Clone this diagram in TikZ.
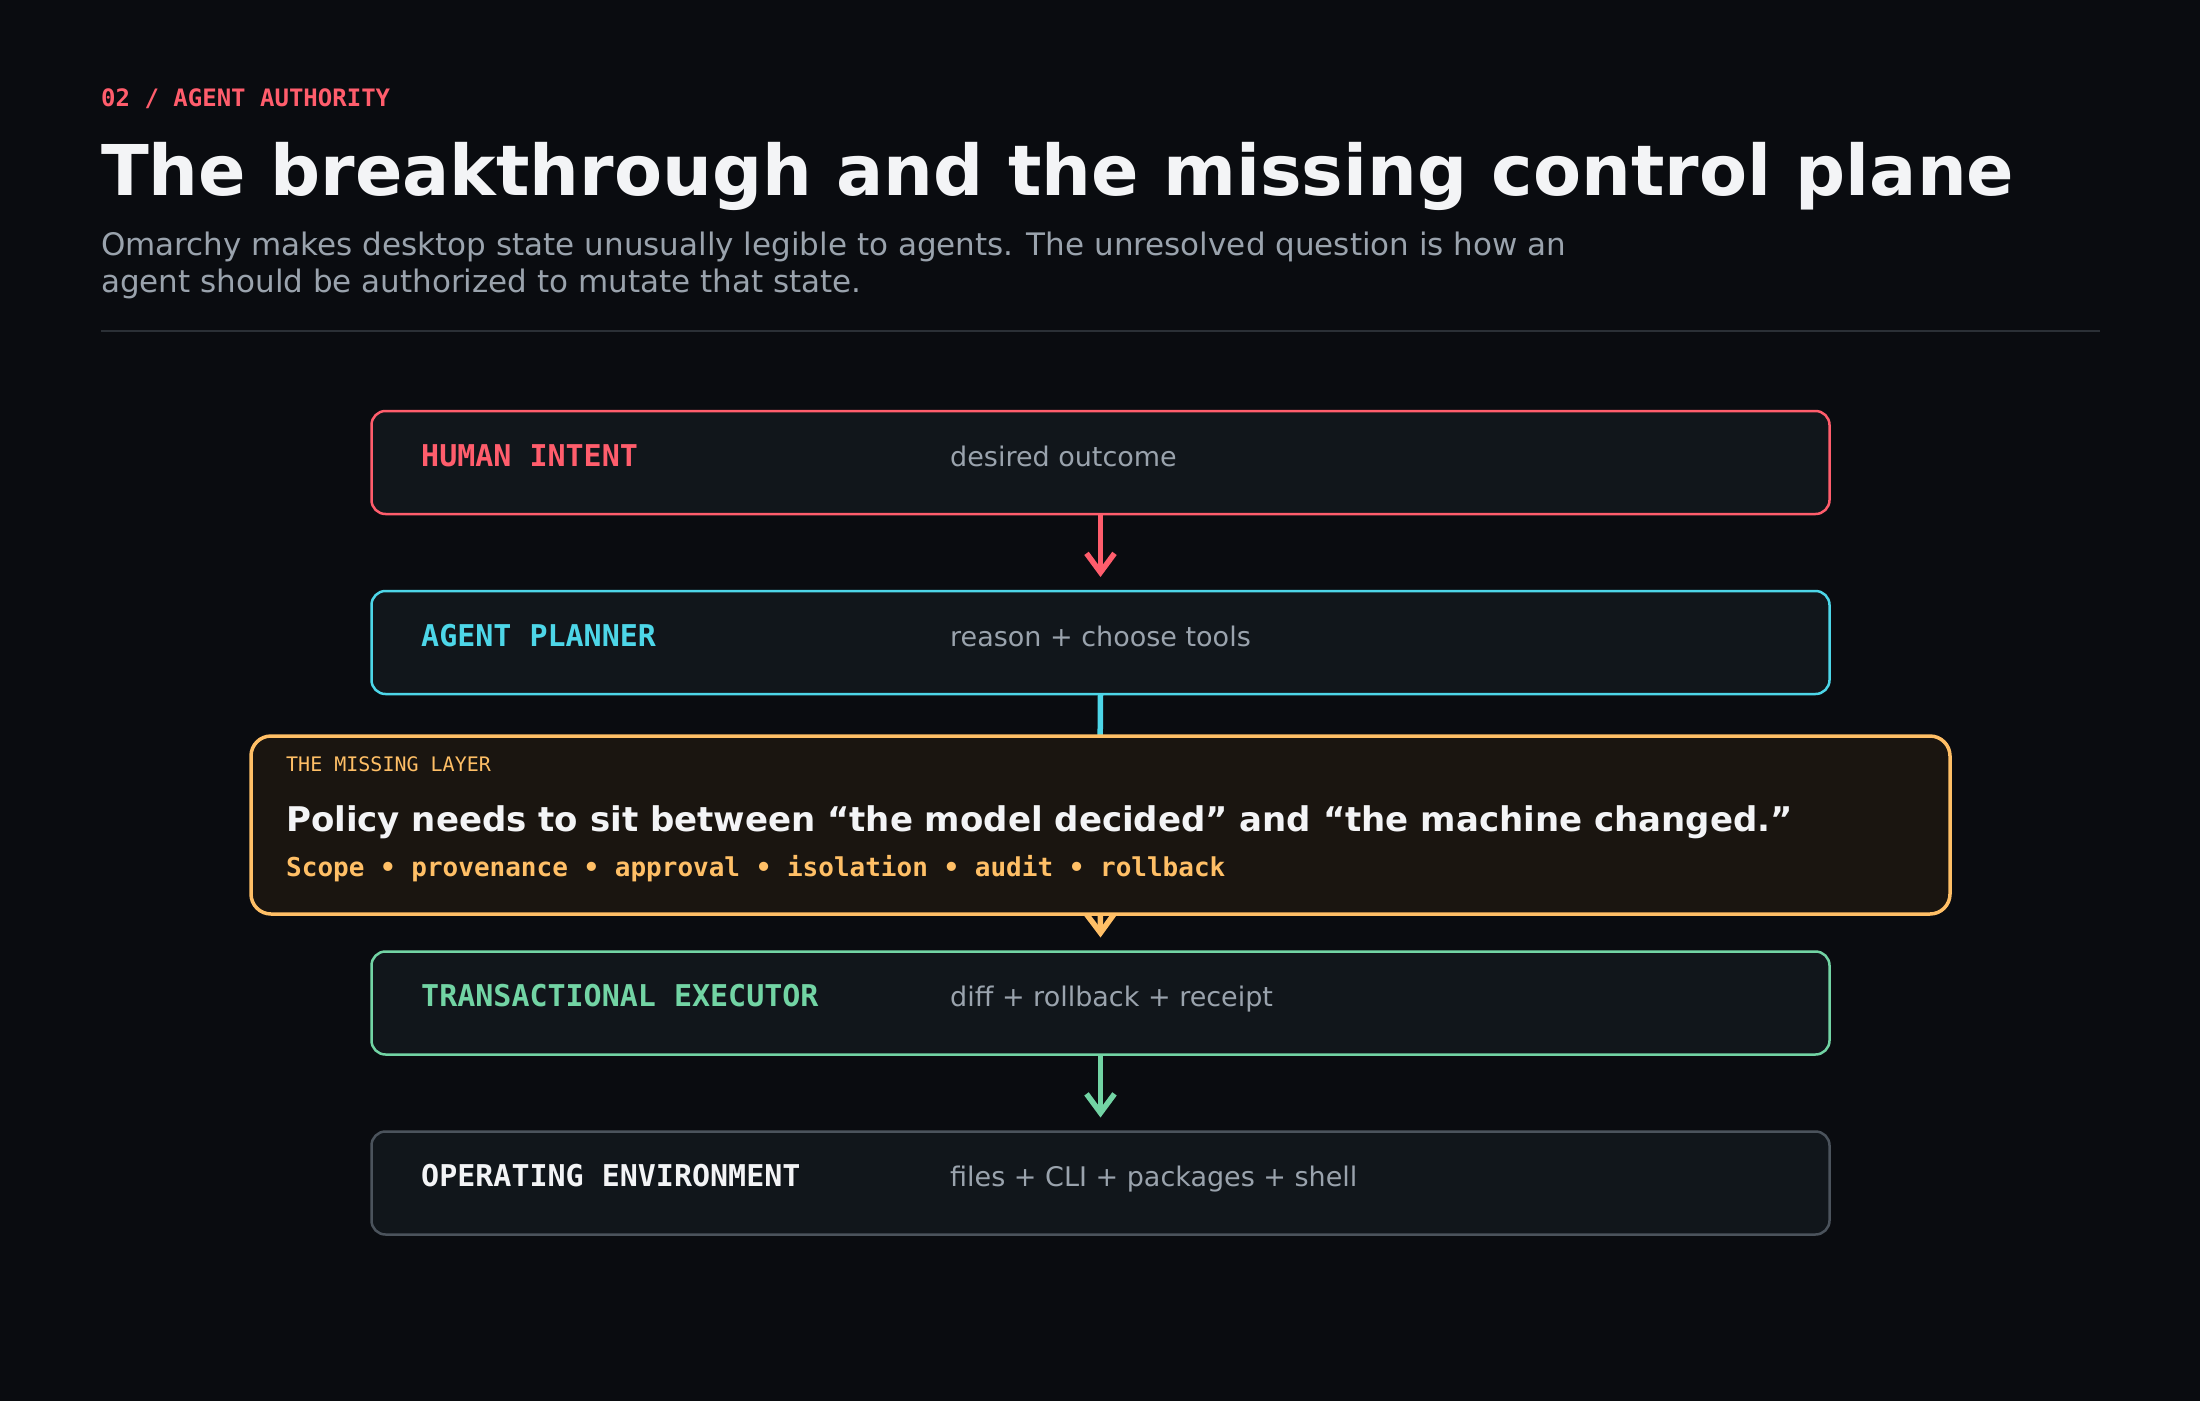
\documentclass[tikz,border=0pt]{standalone}
\usepackage{fontspec}
\setmainfont{DejaVu Sans}
\newfontfamily\monofont{DejaVu Sans Mono}
\usetikzlibrary{arrows.meta}
\definecolor{bgc}{HTML}{0A0C10}
\definecolor{boxfill}{HTML}{11161B}
\definecolor{redc}{HTML}{FF5D6C}
\definecolor{cyanc}{HTML}{4DD6E8}
\definecolor{orangec}{HTML}{FFBF66}
\definecolor{greenc}{HTML}{72D4A4}
\definecolor{grayb}{HTML}{4B535C}
\definecolor{subgray}{HTML}{9AA3AD}
\definecolor{titlew}{HTML}{F3F4F6}
\definecolor{missfill}{HTML}{1A1510}
\definecolor{rulec}{HTML}{2B3036}
\tikzset{
  layerbox/.style={rectangle, rounded corners=14pt, fill=boxfill, line width=2.5pt,
    minimum width=1458pt, minimum height=103pt, inner sep=0pt, outer sep=0pt},
  layerlbl/.style={anchor=base west, inner sep=0pt, font=\monofont\bfseries\fontsize{30}{36}\selectfont},
  layerdesc/.style={anchor=base west, inner sep=0pt, text=subgray, font=\fontsize{27}{32}\selectfont},
  flow/.style={line width=5.5pt, -{Straight Barb[length=19pt,width=28pt,line width=5.5pt]}},
}
\begin{document}
\begin{tikzpicture}[x=1pt,y=-1pt]
\useasboundingbox (0,0) rectangle (2200,1400);
\fill[bgc] (-10,-10) rectangle (2210,1410);

% header
\node[anchor=base west, inner sep=0pt, text=redc, font=\monofont\bfseries\fontsize{24}{28}\selectfont] (kicker) at (101,106) {02 / AGENT AUTHORITY};
\node[anchor=base west, inner sep=0pt, text=titlew, font=\bfseries\fontsize{70}{84}\selectfont] (title) at (101,195) {The breakthrough and the missing control plane};
\node[anchor=base west, inner sep=0pt, text=subgray, font=\fontsize{31}{37}\selectfont] (sub1) at (101,255) {Omarchy makes desktop state unusually legible to agents. The unresolved question is how an};
\node[anchor=base west, inner sep=0pt, text=subgray, font=\fontsize{31}{37}\selectfont] (sub2) at (101,292) {agent should be authorized to mutate that state.};
\coordinate (ruleA) at (101,331);
\coordinate (ruleB) at (2100,331);
\draw[rulec, line width=2pt] (ruleA) -- (ruleB);

% boxes
\node[layerbox, draw=redc] (human) at (1100.5,462.5) {};
\node[layerbox, draw=cyanc] (planner) at (1100.5,642.5) {};
\node[layerbox, draw=greenc] (exec) at (1100.5,1003) {};
\node[layerbox, draw=grayb] (env) at (1100.5,1183) {};

% connectors (drawn before the missing layer box so it covers them)
\draw[flow, redc] (human.south) -- ([yshift=14pt]planner.north);
\draw[line width=5.5pt, cyanc] (planner.south) -- (1100,760);
\coordinate (orangeStart) at (1100,880);
\draw[flow, orangec] (orangeStart) -- ([yshift=14pt]exec.north);
\draw[flow, greenc] (exec.south) -- ([yshift=14pt]env.north);

% missing layer
\node[rectangle, rounded corners=20pt, fill=missfill, draw=orangec, line width=3.5pt,
  minimum width=1699pt, minimum height=178pt, inner sep=0pt, outer sep=0pt] (missing) at (1100.5,825) {};

% labels
\node[layerlbl, text=redc] (humanL) at (421,466) {HUMAN INTENT};
\node[layerdesc] (humanD) at (950,466) {desired outcome};
\node[layerlbl, text=cyanc] (plannerL) at (421,646) {AGENT PLANNER};
\node[layerdesc] (plannerD) at (950,646) {reason + choose tools};
\node[layerlbl, text=greenc] (execL) at (421,1006) {TRANSACTIONAL EXECUTOR};
\node[layerdesc] (execD) at (950,1006) {diff + rollback + receipt};
\node[layerlbl, text=titlew] (envL) at (421,1186) {OPERATING ENVIRONMENT};
\node[layerdesc] (envD) at (950,1186) {files + CLI + packages + shell};

\node[anchor=base west, inner sep=0pt, text=orangec, font=\monofont\fontsize{20}{24}\selectfont] (missK) at (286,771) {THE MISSING LAYER};
\node[anchor=base west, inner sep=0pt, text=titlew, font=\bfseries\fontsize{34}{40}\selectfont] (missT) at (286,831) {Policy needs to sit between “the model decided” and “the machine changed.”};
\node[anchor=base west, inner sep=0pt, text=orangec, font=\monofont\bfseries\fontsize{26}{30}\selectfont] (missS) at (286,876) {Scope • provenance • approval • isolation • audit • rollback};
\end{tikzpicture}
\end{document}
